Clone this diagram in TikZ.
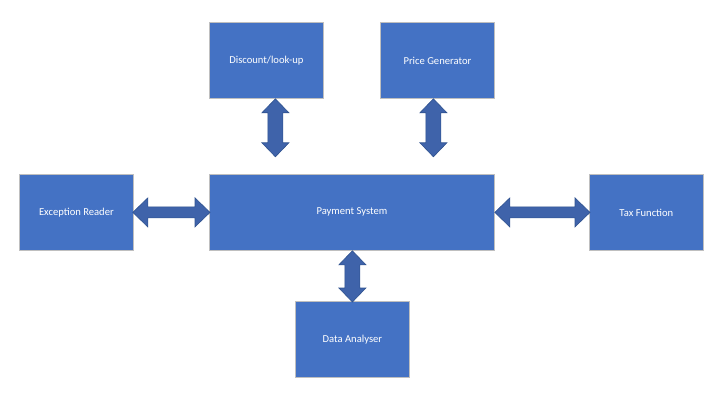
\documentclass[tikz,border=0pt]{standalone}
\usepackage{fontspec}
\setmainfont{Carlito}
\usetikzlibrary{calc}
\definecolor{boxfill}{HTML}{4472C4}
\definecolor{boxline}{HTML}{BFBFBF}
\definecolor{arrfill}{HTML}{3F63AA}
\definecolor{arrline}{HTML}{2F528F}
\tikzset{
  blockbox/.style={draw=boxline, line width=0.8pt, fill=boxfill, text=white,
    minimum width=114pt, minimum height=76pt, inner sep=0pt, anchor=north west,
    font=\fontsize{10.6}{12}\selectfont},
  blockarrow/.style={fill=arrfill, draw=arrline, line width=0.6pt, line join=miter}
}
% vertical double arrow from #1 (top) to #2 (bottom)
\newcommand{\vdarrow}[2]{%
  \draw[blockarrow] (#1) -- ($(#1)+(13.5,14)$) -- ($(#1)+(7.5,14)$) -- ($(#2)+(7.5,-14)$)
    -- ($(#2)+(13.5,-14)$) -- (#2) -- ($(#2)+(-13.5,-14)$) -- ($(#2)+(-7.5,-14)$)
    -- ($(#1)+(-7.5,14)$) -- ($(#1)+(-13.5,14)$) -- cycle;}
% horizontal double arrow from #1 (left) to #2 (right)
\newcommand{\hdarrow}[2]{%
  \draw[blockarrow] (#1) -- ($(#1)+(15,-14.5)$) -- ($(#1)+(15,-5.5)$) -- ($(#2)+(-15,-5.5)$)
    -- ($(#2)+(-15,-14.5)$) -- (#2) -- ($(#2)+(-15,14.5)$) -- ($(#2)+(-15,5.5)$)
    -- ($(#1)+(15,5.5)$) -- ($(#1)+(15,14.5)$) -- cycle;}
\begin{document}
\begin{tikzpicture}[x=1pt,y=-1pt]
\useasboundingbox (0,0) rectangle (724,404);
\node[blockbox] (disc) at (209,22) {Discount/look-up};
\node[blockbox] (price) at (380,22) {Price Generator};
\node[blockbox] (exc) at (19,174) {Exception Reader};
\node[blockbox, minimum width=285pt] (pay) at (209,174) {Payment System};
\node[blockbox] (tax) at (589,174) {Tax Function};
\node[blockbox] (data) at (295,301) {Data Analyser};
% arrow end points
\coordinate (d1) at ($(disc.south)+(9,0)$);
\coordinate (d2) at ($(d1)+(0,58)$);
\coordinate (p1) at ($(price.south)+(-4,0)$);
\coordinate (p2) at ($(p1)+(0,58)$);
\coordinate (e1) at ($(exc.east)+(-1,0)$);
\coordinate (e2) at ($(pay.west)+(1,0)$);
\coordinate (t1) at ($(pay.east)+(0,0)$);
\coordinate (t2) at ($(tax.west)+(1,0)$);
\coordinate (a1) at ($(pay.south)+(0.5,0)$);
\coordinate (a2) at ($(data.north)+(0,1)$);
\vdarrow{d1}{d2}
\vdarrow{p1}{p2}
\vdarrow{a1}{a2}
\hdarrow{e1}{e2}
\hdarrow{t1}{t2}
\end{tikzpicture}
\end{document}
